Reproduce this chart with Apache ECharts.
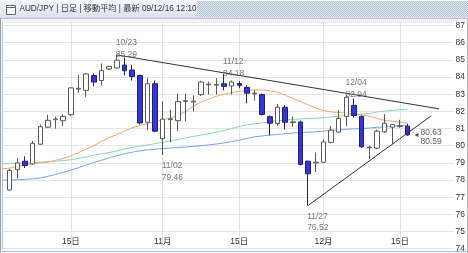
<!DOCTYPE html>
<html><head><meta charset="utf-8">
<script src="https://cdn.jsdelivr.net/npm/echarts@6/dist/echarts.min.js"></script>
<style>html,body{margin:0;padding:0;background:#fff}#c{width:468px;height:253px}</style>
</head><body><div id="c"></div>
<script>
// ---- data ----
const dates = ['10/05','10/06','10/07','10/08','10/09','10/12','10/13','10/14','10/15','10/16','10/19','10/20','10/21','10/22','10/23','10/26','10/27','10/28','10/29','10/30',
'11/02','11/03','11/04','11/05','11/06','11/09','11/10','11/11','11/12','11/13','11/16','11/17','11/18','11/19','11/20','11/23','11/24','11/25','11/26','11/27','11/30',
'12/01','12/02','12/03','12/04','12/07','12/08','12/09','12/10','12/11','12/14','12/15','12/16'];
const opens  = [77.42,78.60,79.10,78.94,80.09,81.08,81.52,81.46,81.80,83.30,83.23,84.09,83.80,84.47,84.53,84.70,84.41,84.09,81.37,83.61,
80.41,81.52,81.46,82.58,82.55,82.98,83.55,83.53,83.61,83.48,83.62,83.40,83.02,82.98,81.69,81.30,82.24,81.35,81.38,79.10,79.00,
79.04,80.20,80.80,81.70,82.35,81.71,79.88,79.86,80.81,81.08,81.12,81.14];
const closes = [78.57,79.00,78.85,80.14,81.11,81.48,81.56,81.71,83.37,83.35,84.18,83.71,84.37,84.62,84.98,84.37,84.03,81.33,83.61,80.85,
81.55,81.57,82.57,82.62,82.60,83.71,83.59,83.57,83.46,83.71,83.52,83.06,83.06,81.82,81.31,82.24,81.37,81.39,78.91,78.37,79.04,
80.22,80.91,81.59,82.82,81.76,79.94,79.92,80.85,81.31,81.23,81.16,80.63];
const lows   = [77.38,78.09,78.71,78.90,80.05,81.04,81.00,81.14,81.74,83.08,82.85,83.46,83.51,84.41,84.49,84.09,83.80,81.23,80.91,80.79,
79.46,80.20,80.85,81.42,82.00,82.90,82.98,82.98,83.23,82.98,83.35,82.47,82.64,81.77,80.60,81.14,80.94,81.10,78.85,76.52,78.47,
78.98,80.13,80.75,81.14,81.65,79.86,79.23,79.80,80.75,80.09,81.04,80.59];
const highs  = [78.66,79.27,79.38,80.28,81.23,81.80,81.70,81.84,83.42,84.13,84.22,84.22,84.79,84.66,85.29,85.14,84.71,84.14,83.95,83.80,
82.60,82.10,83.04,83.04,82.94,83.78,83.74,83.94,84.18,83.80,83.75,83.52,83.23,83.04,81.77,82.43,82.37,81.70,81.46,79.14,79.61,
80.37,81.14,82.09,82.94,82.75,81.77,80.00,80.94,81.84,81.27,81.51,81.27];
// moving averages (first value = left edge of plot, then one per candle)
const maShort = [78.65,78.70,78.80,78.90,78.96,79.00,79.04,79.15,79.27,79.40,79.60,79.80,80.00,80.25,80.47,80.65,80.85,81.04,81.18,81.30,81.40,
81.50,81.62,81.78,82.00,82.30,82.55,82.72,82.88,83.00,83.10,83.17,83.22,83.26,83.25,83.20,83.12,82.95,82.75,82.58,82.38,82.20,
82.05,81.97,81.93,81.90,81.87,81.80,81.71,81.60,81.48,81.42,81.37,81.30];
const maMid = [78.94,78.96,78.98,79.00,79.02,79.04,79.07,79.10,79.14,79.18,79.26,79.35,79.45,79.52,79.60,79.70,79.80,79.90,79.98,80.05,80.12,
80.20,80.28,80.36,80.45,80.54,80.62,80.70,80.80,80.88,81.00,81.12,81.22,81.28,81.33,81.39,81.46,81.50,81.54,81.56,81.58,81.60,
81.63,81.68,81.72,81.76,81.80,81.84,81.88,81.96,82.02,82.06,82.10,82.12];
const maLong = [78.00,78.00,78.02,78.04,78.07,78.12,78.22,78.33,78.45,78.58,78.72,78.88,79.02,79.15,79.30,79.42,79.53,79.63,79.70,79.76,79.80,
79.84,79.87,79.90,79.93,79.96,80.00,80.05,80.10,80.16,80.24,80.32,80.42,80.52,80.57,80.62,80.66,80.70,80.74,80.77,80.79,80.81,
80.85,80.90,80.93,80.96,80.98,81.00,81.03,81.07,81.10,81.14,81.17,81.20];
const tickDates  = ['10/15','11/02','11/16','12/01','12/15'];
const tickLabels = ['15日','11月','15日','12月','15日'];
const peakDates = ['10/23','11/12','12/04'];
const troughDates = ['11/02','11/27'];
const resistLine = [[15,85.29],[57.1,82.15]];
const supportLine = [[40,76.52],[56.1,81.75]];
const lastValues = [80.63, 80.59];
const yTicks = [74,75,76,77,78,79,80,81,82,83,84,85,86,87];

// ---- build ----
const TRAIL = 6;
const cats = [''].concat(dates).concat(new Array(TRAIL).fill(''));
const NMAX = cats.length - 1;
const candleData = ['-'].concat(dates.map((d,i)=>[opens[i],closes[i],lows[i],highs[i]]));
const idxOf = d => dates.indexOf(d) + 1;
const tickIdx = tickDates.map(idxOf);
const peakPts = peakDates.map(d=>{const i=dates.indexOf(d);return {value:[i+1,highs[i]],name:d};});
const troughPts = troughDates.map(d=>{const i=dates.indexOf(d);return {value:[i+1,lows[i]],name:d};});
const FF = 'Liberation Sans, Arial, Noto Sans CJK JP, sans-serif';

// checker pattern for title bar
const pc = document.createElement('canvas'); pc.width = 2; pc.height = 2;
const px = pc.getContext('2d');
px.fillStyle = '#e2e8f1'; px.fillRect(0,0,2,2);
px.fillStyle = '#b3c1d6'; px.fillRect(0,0,1,1); px.fillRect(1,1,1,1);

const chart = echarts.init(document.getElementById('c'), null, {renderer:'canvas'});
chart.setOption({
  animation:false,
  backgroundColor:'#ffffff',
  grid:{left:2, top:22.3, right:13, height:231},
  xAxis:[{
    type:'category', data:cats, boundaryGap:false,
    axisLine:{show:false}, axisTick:{show:false},
    axisLabel:{inside:true, margin:3, fontSize:8.5, color:'#333', fontFamily:FF,
      interval:(i)=>tickIdx.indexOf(i)>=0,
      formatter:(v,i)=>{const k=tickIdx.indexOf(i);return k>=0?tickLabels[k]:'';}},
    splitLine:{show:true, interval:(i)=>tickIdx.indexOf(i)>=0, lineStyle:{color:'#e2e2e2', width:1}}
  },{
    type:'value', min:0, max:NMAX, show:false
  }],
  yAxis:{
    type:'value', position:'right', min:yTicks[0], max:87.19, interval:1,
    axisLine:{show:true, lineStyle:{color:'#a9c0e6'}}, axisTick:{show:false},
    axisLabel:{margin:2, fontSize:8.5, color:'#333', fontFamily:FF, verticalAlign:'middle', padding:[0,0,6,0],
      formatter:(v)=>yTicks.indexOf(v)>=0?String(v):''},
    splitLine:{lineStyle:{color:'#e4e4e4', width:1}}
  },
  series:[
    {type:'line', data:maLong, showSymbol:false, symbol:'none', lineStyle:{color:'#74a6f2', width:1}, z:2},
    {type:'line', data:maMid, showSymbol:false, symbol:'none', lineStyle:{color:'#86dca8', width:1}, z:2},
    {type:'line', data:maShort, showSymbol:false, symbol:'none', lineStyle:{color:'#f5a56c', width:1}, z:2},
    {type:'candlestick', data:candleData, barWidth:5, z:3,
      itemStyle:{color:'#ffffff', color0:'#3535d8', borderColor:'#5a5a5a', borderColor0:'#22226a', borderWidth:1}},
    {type:'line', xAxisIndex:1, data:resistLine, showSymbol:false, symbol:'none', lineStyle:{color:'#333', width:1}, z:4},
    {type:'line', xAxisIndex:1, data:supportLine, showSymbol:false, symbol:'none', lineStyle:{color:'#333', width:1}, z:4},
    {type:'scatter', xAxisIndex:1, data:peakPts, symbolSize:0, z:5,
      label:{show:true, position:'top', distance:-5, align:'left', offset:[-1,0], fontSize:8.5, lineHeight:11.5,
        color:'#555', fontFamily:FF, formatter:(p)=>p.name+'\n'+p.value[1].toFixed(2)}},
    {type:'scatter', xAxisIndex:1, data:troughPts, symbolSize:0, z:5,
      label:{show:true, position:'bottom', distance:5, align:'left', offset:[-1,0], fontSize:8.5, lineHeight:11.5,
        color:'#555', fontFamily:FF, formatter:(p)=>p.name+'\n'+p.value[1].toFixed(2)}},
    {type:'scatter', xAxisIndex:1, data:[[54.15, lastValues[0]]], symbol:'triangle', symbolRotate:90, symbolSize:[4,4],
      itemStyle:{color:'#222'}, z:5,
      label:{show:true, position:'right', distance:2, offset:[0,2], fontSize:8.5, lineHeight:8.5, color:'#333', fontFamily:FF,
        formatter:()=>lastValues.map(v=>v.toFixed(2)).join('\n')}}
  ],
  graphic:[
    {type:'rect', shape:{x:0,y:0,width:468,height:18}, z:10,
      style:{fill:new echarts.graphic.LinearGradient(0,0,0,1,[{offset:0,color:'#f6f8fb'},{offset:1,color:'#d9e1ec'}])}},
    {type:'rect', shape:{x:197,y:1,width:271,height:16}, z:11, style:{fill:{image:pc, repeat:'repeat'}}},
    {type:'line', shape:{x1:0,y1:18.5,x2:468,y2:18.5}, z:11, style:{stroke:'#aebbd0', lineWidth:1}},
    {type:'line', shape:{x1:0,y1:20.5,x2:468,y2:20.5}, z:11, style:{stroke:'#e6e6e6', lineWidth:1}},
    {type:'rect', shape:{x:6.5,y:5.5,width:9,height:9}, z:12, style:{fill:'#fff', stroke:'#666', lineWidth:1}},
    {type:'line', shape:{x1:6.5,y1:7.5,x2:15.5,y2:7.5}, z:12, style:{stroke:'#666', lineWidth:1}},
    {type:'text', x:19.5, y:9, z:12, style:{text:'AUD/JPY | 日足 | 移動平均 | 最新 09/12/16 12:10', fill:'#333',
      font:'8.2px Liberation Sans, Arial, Noto Sans CJK JP, sans-serif', textVerticalAlign:'middle', verticalAlign:'middle'}},
    {type:'line', shape:{x1:0.5,y1:18,x2:0.5,y2:253}, z:12, style:{stroke:'#999', lineWidth:1}},
    {type:'line', shape:{x1:467.5,y1:18,x2:467.5,y2:253}, z:12, style:{stroke:'#bbb', lineWidth:1}},
    {type:'line', shape:{x1:0,y1:251.5,x2:468,y2:251.5}, z:12, style:{stroke:'#a9c0e6', lineWidth:1}}
  ]
});
</script></body></html>
